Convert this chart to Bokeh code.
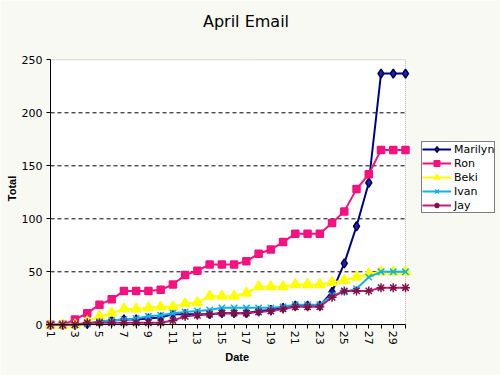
import math
from bokeh.plotting import figure
from bokeh.models import Range1d, FixedTicker, Legend, LegendItem, Label, BoxAnnotation
from bokeh.embed import file_html
from bokeh.resources import INLINE

days = list(range(1, 31))
marilyn = [0, 0, 0, 1, 3, 4, 5, 5, 6, 7, 10, 10, 10, 10, 11, 11, 11, 13, 14, 16, 18, 18, 18, 31, 58, 93, 134, 237, 237, 237]
ron = [0, 0, 5, 11, 19, 24, 32, 32, 32, 33, 38, 47, 51, 57, 57, 57, 60, 67, 71, 78, 86, 86, 86, 96, 107, 128, 142, 165, 165, 165]
beki = [0, 0, 0, 3, 8, 11, 15, 15, 16, 17, 17, 20, 21, 27, 27, 27, 30, 36, 36, 36, 38, 38, 38, 40, 42, 45, 48, 50, 50, 50]
ivan = [0, 0, 0, 1, 3, 4, 5, 6, 8, 9, 11, 12, 13, 14, 16, 16, 16, 16, 16, 17, 19, 19, 19, 28, 31, 34, 45, 50, 50, 50]
jay = [0, 0, 0, 2, 2, 2, 2, 2, 2, 2, 4, 8, 9, 10, 11, 11, 11, 12, 13, 15, 17, 17, 17, 26, 32, 32, 32, 35, 35, 35]

names = ["Marilyn", "Ron", "Beki", "Ivan", "Jay"]
x_major_ticks = list(range(1, 31, 2))
x_minor_ticks = list(range(2, 31, 2))
y_ticks = [0, 50, 100, 150, 200, 250]
grid_values = [50, 100, 150, 200]
Y_MIN, Y_MAX = 0, 250

# page layout (pixels)
W, H = 500, 375
PL, PR, PT, PB = 50, 405, 59.3, 324.3
x0, x1 = days[0], days[-1]
sx = (PR - PL) / (x1 - x0)
sy = (PB - PT) / (Y_MAX - Y_MIN)
def dx(px):
    return x0 + (px - PL) / sx
def dy(py):
    return Y_MIN + (PB - py) / sy

BG = "#f9f9f4"
p = figure(width=W, height=H, output_backend="svg", toolbar_location=None,
           title_location=None,
           x_range=Range1d(dx(0), dx(W)), y_range=Range1d(dy(H), dy(0)),
           min_border=0, min_border_left=0, min_border_right=0,
           min_border_top=0, min_border_bottom=0)
p.background_fill_color = BG
p.border_fill_color = BG
p.outline_line_color = None
p.xgrid.visible = False
p.ygrid.visible = False

p.add_layout(BoxAnnotation(left=x0, right=x1, bottom=Y_MIN, top=Y_MAX,
                           fill_color="white", fill_alpha=1,
                           line_color="black", line_dash="1 1", line_width=1,
                           level="underlay"))

p.segment(x0=[x0] * len(grid_values), y0=grid_values,
          x1=[x1] * len(grid_values), y1=grid_values,
          line_color="black", line_dash="4 3", line_width=1)

for ax in (p.xaxis, p.yaxis):
    ax.axis_line_color = "black"
    ax.axis_line_width = 1
    ax.major_tick_line_color = "black"
    ax.major_tick_in = 0
    ax.major_tick_out = 4
    ax.major_label_text_font = "DejaVu Sans"
    ax.major_label_text_font_size = "11px"
    ax.major_label_text_color = "black"

p.xaxis.fixed_location = Y_MIN
p.xaxis.bounds = (x0, x1)
p.xaxis.ticker = FixedTicker(ticks=x_major_ticks, minor_ticks=x_minor_ticks)
p.xaxis.minor_tick_line_color = "black"
p.xaxis.minor_tick_in = 0
p.xaxis.minor_tick_out = 4
p.xaxis.major_label_orientation = -math.pi / 2
p.xaxis.major_label_standoff = 2

p.yaxis.fixed_location = x0
p.yaxis.bounds = (Y_MIN, Y_MAX)
p.yaxis.ticker = FixedTicker(ticks=y_ticks)
p.yaxis.minor_tick_line_color = None
p.yaxis.major_label_standoff = 4

styles = [
    dict(data=marilyn, color="#000090", marker="diamond", size=9, fill="#2020b0", mline="#000050"),
    dict(data=ron, color="#f5117f", marker="square", size=7, fill="#f5117f", mline="#f5117f"),
    dict(data=beki, color="#ffff00", marker="triangle", size=10, fill="#ffff00", mline="#ffff00"),
    dict(data=ivan, color="#10b0ec", marker="x", size=9, fill="#10b0ec", mline="#10b0ec"),
    dict(data=jay, color="#c0207a", marker="asterisk", size=9, fill="#c0207a", mline="#801048"),
]

items = []
for name, s in zip(names, styles):
    l = p.line(days, s["data"], line_color=s["color"], line_width=2)
    m = p.scatter(days, s["data"], marker=s["marker"], size=s["size"],
                  fill_color=s["fill"], line_color=s["mline"], line_width=1.5)
    items.append(LegendItem(label=name, renderers=[l, m]))

legend = Legend(items=items, location=(421, H - 213))
legend.padding = 0
legend.margin = 0
legend.spacing = 0
legend.glyph_width = 29
legend.glyph_height = 14
legend.label_height = 14
legend.label_standoff = 3
legend.label_text_font = "DejaVu Sans"
legend.label_text_font_size = "11px"
legend.label_text_color = "black"
legend.border_line_color = "black"
legend.border_line_width = 1
legend.background_fill_color = "white"
legend.background_fill_alpha = 1
p.add_layout(legend)

p.add_layout(Label(x=dx(245.5), y=dy(21), text="April Email",
                   text_align="center", text_baseline="middle",
                   text_font="DejaVu Sans", text_font_size="16px", text_color="black"))
p.add_layout(Label(x=dx(236.7), y=dy(356), text="Date",
                   text_align="center", text_baseline="middle",
                   text_font="Liberation Sans", text_font_style="bold",
                   text_font_size="11px", text_color="black"))
p.add_layout(Label(x=dx(11), y=dy(188), text="Total", angle=math.pi / 2,
                   text_align="center", text_baseline="middle",
                   text_font="Liberation Sans", text_font_style="bold",
                   text_font_size="11px", text_color="black"))

open("out.html", "w").write(file_html(p, INLINE))
